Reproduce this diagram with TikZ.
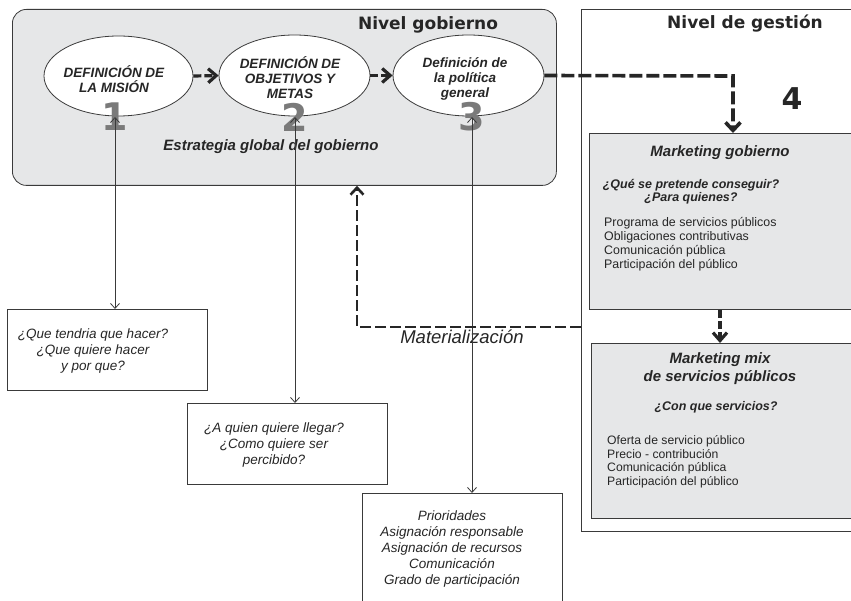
\documentclass[tikz,border=0pt]{standalone}
\usepackage{fontspec}
\setmainfont{Liberation Sans}
\newfontfamily\heavy{DejaVu Sans}
\usetikzlibrary{arrows.meta,shapes.geometric}
\definecolor{govfill}{HTML}{E6E7E8}
\definecolor{linec}{HTML}{3A3A3A}
\definecolor{darkc}{HTML}{262626}
\definecolor{digitgrey}{HTML}{7A7A7A}
\newcommand{\fsz}[2]{\fontsize{#1}{#2}\selectfont}
\tikzset{
  panel/.style={draw=linec, line width=0.8pt, anchor=north west, inner sep=0pt},
  ellbox/.style={ellipse, draw=linec, line width=0.8pt, fill=white, inner sep=0pt},
  elltext/.style={align=center, inner sep=0pt, text=darkc, font=\bfseries\itshape\fsz{13.5}{15}},
  digit/.style={text=digitgrey, inner sep=0pt, font=\heavy\bfseries\fsz{38}{38}},
  qtext/.style={align=center, inner sep=0pt, text=darkc, font=\itshape\fsz{13.5}{16}},
  listtext/.style={align=left, inner sep=0pt, anchor=west, text=darkc},
  thinarrow/.style={draw=linec, line width=0.8pt, {Straight Barb[length=5pt,width=9pt]}-{Straight Barb[length=5pt,width=9pt]}},
  shortdash/.style={draw=darkc, line width=3.2pt, dash pattern=on 8pt off 3pt, -{Straight Barb[length=8pt,width=14pt]}},
  longdash/.style={draw=darkc, line width=3.6pt, dash pattern=on 13pt off 4pt, -{Straight Barb[length=8pt,width=15pt]}},
  feeddash/.style={draw=darkc, line width=2.6pt, dash pattern=on 11pt off 4pt, -{Straight Barb[length=7pt,width=13pt]}},
}
\begin{document}
\begin{tikzpicture}[x=1pt,y=-1pt]
\useasboundingbox (0,0) rectangle (851,601);
\clip (0,0) rectangle (851,601);
% panels
\node[panel, fill=govfill, rounded corners=14pt, minimum width=544pt, minimum height=176pt] (gov) at (12,9) {};
\node[panel, fill=white, minimum width=290pt, minimum height=522pt] (gest) at (581,9) {};
\node[panel, fill=govfill, minimum width=280pt, minimum height=176pt] (mg) at (589,133) {};
\node[panel, fill=govfill, minimum width=280pt, minimum height=175pt] (mm) at (591,343) {};
% question boxes
\node[panel, fill=white, minimum width=200pt, minimum height=81pt] (b1) at (7,309) {};
\node[panel, fill=white, minimum width=200pt, minimum height=81pt] (b2) at (187,403) {};
\node[panel, fill=white, minimum width=200pt, minimum height=130pt] (b3) at (362,493) {};
% titles
\node[anchor=base, inner sep=0pt, text=darkc, font=\heavy\bfseries\fsz{17}{17}] (tgov) at (428,30) {Nivel gobierno};
\node[anchor=base, inner sep=0pt, text=darkc, font=\heavy\bfseries\fsz{17}{17}] (tgest) at (745,29) {Nivel de gestión};
\node[inner sep=0pt, text=darkc, font=\heavy\bfseries\fsz{30}{30}] (four) at (792,99) {4};
% ellipses
\node[ellbox, minimum width=149pt, minimum height=80pt] (e1) at (118.5,76) {};
\node[ellbox, minimum width=151pt, minimum height=81pt] (e2) at (294.5,75.5) {};
\node[ellbox, minimum width=151pt, minimum height=81pt] (e3) at (468.5,75.5) {};
\node[elltext] (t1) at (114,79) {DEFINICIÓN DE\\LA MISIÓN};
\node[elltext] (t2) at (290,77.5) {DEFINICIÓN DE\\OBJETIVOS Y\\METAS};
\node[elltext] (t3) at (465,78.5) {Definición de\\la política\\general};
\node[digit] (d1) at (115,117) {1};
\node[digit] (d2) at (295,117) {2};
\node[digit] (d3) at (472,117) {3};
\node[anchor=base, inner sep=0pt, text=darkc, font=\bfseries\itshape\fsz{15}{15}] (estr) at (271,151) {Estrategia global del gobierno};
% marketing gobierno texts
\node[inner sep=0pt, text=darkc, font=\bfseries\itshape\fsz{15}{15}] (mgt) at (720,153) {Marketing gobierno};
\node[align=center, inner sep=0pt, text=darkc, font=\bfseries\itshape\fsz{12.5}{13.5}] (mgq) at (691,191.5) {¿Qué se pretende conseguir?\\¿Para quienes?};
\node[listtext, font=\fsz{12.4}{14}] (mgl) at (604,244) {Programa de servicios públicos\\Obligaciones contributivas\\Comunicación pública\\Participación del público};
% marketing mix texts
\node[align=center, inner sep=0pt, text=darkc, font=\bfseries\itshape\fsz{15}{18}] (mmt) at (720,369) {Marketing mix\\de servicios públicos};
\node[inner sep=0pt, text=darkc, font=\bfseries\itshape\fsz{12.5}{13.5}] (mmq) at (716,407) {¿Con que servicios?};
\node[listtext, font=\fsz{12.2}{13.5}] (mml) at (607,462) {Oferta de servicio público\\Precio - contribución\\Comunicación pública\\Participación del público};
% question box texts
\node[qtext] (q1) at (93,351) {¿Que tendria que hacer?\\¿Que quiere hacer\\y por que?};
\node[qtext] (q2) at (274,445) {¿A quien quiere llegar?\\¿Como quiere ser\\percibido?};
\node[qtext] (q3) at (452,549) {Prioridades\\Asignación responsable\\Asignación de recursos\\Comunicación\\Grado de participación};
\node[anchor=base, inner sep=0pt, text=darkc, font=\itshape\fsz{18.5}{18.5}] (mat) at (462,344) {Materialización};
% connectors
\draw[thinarrow] (d1.center) -- (d1.center |- b1.north);
\draw[thinarrow] (d2.center) -- (d2.center |- b2.north);
\draw[thinarrow] (d3.center) -- (d3.center |- b3.north);
\draw[shortdash] (e1.east) -- (e2.west);
\draw[shortdash] (e2.east) -- (e3.west);
\coordinate (c1) at (733,76);
\draw[longdash] (e3.east) -- (c1) -- (c1 |- mg.north);
\coordinate (c2) at (720,320);
\draw[shortdash] (c2 |- mg.south) -- (c2 |- mm.north);
\coordinate (c3) at (357,327);
\draw[feeddash] (c3 -| gest.west) -- (c3) -- (c3 |- gov.south);
\end{tikzpicture}
\end{document}
